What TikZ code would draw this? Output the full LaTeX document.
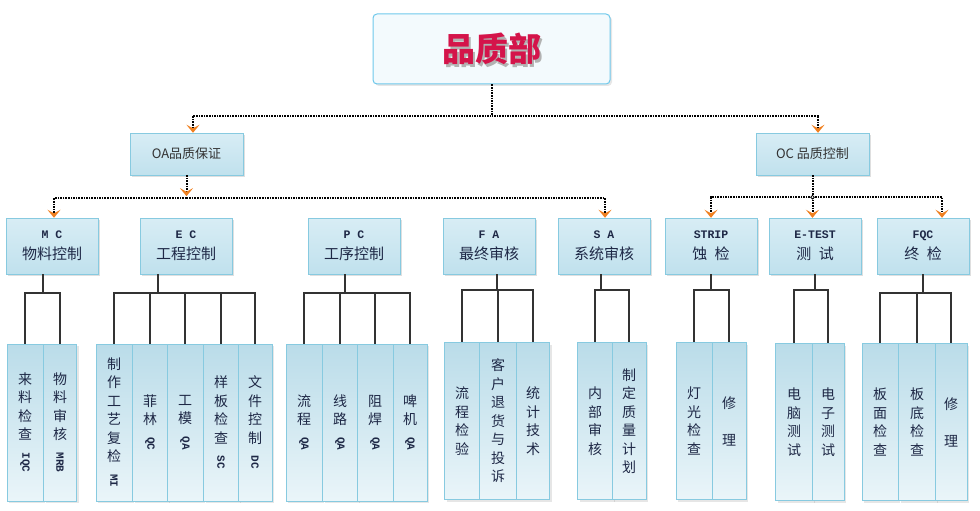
\documentclass[tikz,border=0pt]{standalone}
\usepackage{fontspec}
\newfontfamily\cjk{Noto Sans CJK SC}
\newfontfamily\latmono{Liberation Mono}
\usetikzlibrary{arrows.meta, positioning, shadows}

\definecolor{titlered}{RGB}{212,20,74}
\definecolor{titleline}{RGB}{110,200,235}
\definecolor{titlefill}{RGB}{243,250,253}
\definecolor{boxline}{RGB}{135,202,224}
\definecolor{grptop}{RGB}{216,237,245}
\definecolor{grpbot}{RGB}{192,225,237}
\definecolor{leaftop}{RGB}{186,220,233}
\definecolor{leafbot}{RGB}{234,245,249}
\definecolor{arrowor}{RGB}{240,128,32}
\definecolor{textnavy}{RGB}{30,40,70}

\newcommand{\sidew}[1]{\raisebox{6pt}{\rotatebox{-90}{\latmono\bfseries\fontsize{11}{11}\selectfont #1}}}
\newcommand{\grptag}[1]{{\latmono\bfseries\fontsize{11.5}{11.5}\selectfont #1}}

\begin{document}
\begin{tikzpicture}[x=1pt, y=-1pt,
      topbox/.style={draw=titleline, line width=1pt, rounded corners=4pt, fill=titlefill,
                     minimum width=237pt, minimum height=70pt,
                     drop shadow={opacity=.2, shadow xshift=2pt, shadow yshift=-2pt}},
      titletext/.style={font=\cjk\bfseries\fontsize{33}{33}\selectfont, text=titlered},
      titleshade/.style={font=\cjk\bfseries\fontsize{33}{33}\selectfont, text=black!30},
      qbox/.style={draw=boxline, top color=grptop, bottom color=grpbot, text=black!80,
                   minimum width=113pt, minimum height=42pt, font=\cjk\fontsize{13}{13}\selectfont,
                   drop shadow={opacity=.25, shadow xshift=2pt, shadow yshift=-2pt}},
      grp/.style={draw=boxline, top color=grptop, bottom color=grpbot, text=textnavy,
                  minimum width=92pt, minimum height=56pt, align=center, inner sep=0pt,
                  font=\cjk\fontsize{15}{21}\selectfont,
                  drop shadow={opacity=.25, shadow xshift=2pt, shadow yshift=-2pt}},
      leaf/.style={draw=boxline, top color=leaftop, bottom color=leafbot, text=textnavy,
                   minimum height=157pt, inner sep=0pt, align=center,
                   font=\cjk\fontsize{14}{18.5}\selectfont,
                   drop shadow={opacity=.2, shadow xshift=2pt, shadow yshift=-2pt}},
      dotline/.style={line width=2pt, dash pattern=on 1.6pt off 1pt},
      dotarrow/.style={dotline, -{Stealth[length=8pt, width=13pt, inset=3.5pt, color=arrowor]}},
      tree/.style={line width=1.9pt, black!80},
      jdot/.style={circle, draw, fill=white, line width=0.8pt, inner sep=1.3pt}
    ]
    \useasboundingbox (0,0) rectangle (980,511);

    % top
    \node[topbox] (qd) at (491.5,49) {};
    \node[titleshade] at ([shift={(2.5pt,-2.5pt)}]qd.center) {品质部};
    \node[titletext] (qdt) at (qd.center) {品质部};

    \node[qbox] (qa) at (186.5,154) {OA品质保证};
    \node[qbox] (qc) at (812.5,154) {OC 品质控制};

    % groups
    \node[grp] (mc) at (52,246) {\grptag{M C}\\物料控制};
    \node[grp] (ec) at (186,246) {\grptag{E C}\\工程控制};
    \node[grp] (pc) at (354,246) {\grptag{P C}\\工序控制};
    \node[grp] (fa) at (489,246) {\grptag{F A}\\最终审核};
    \node[grp] (sa) at (604,246) {\grptag{S A}\\系统审核};
    \node[grp] (strip) at (711,246) {\grptag{STRIP}\\蚀\enspace 检};
    \node[grp] (etest) at (815,246) {\grptag{E-TEST}\\测\enspace 试};
    \node[grp] (fqc) at (923,246) {\grptag{FQC}\\终\enspace 检};

    % leaves
    \node[leaf, minimum width=36pt] (m1) at (25,422.5) {来\\料\\检\\查\\\sidew{IQC}};
    \node[leaf, minimum width=33pt] (m2) at (60,422.5) {物\\料\\审\\核\\\sidew{MRB}};

    \node[leaf, minimum width=36pt] (e1) at (114,422.5) {制\\作\\工\\艺\\复\\检\\\sidew{MI}};
    \node[leaf, minimum width=35pt] (e2) at (150,422.5) {菲\\林\\\sidew{QC}};
    \node[leaf, minimum width=36pt] (e3) at (185,422.5) {工\\模\\\sidew{QA}};
    \node[leaf, minimum width=35pt] (e4) at (221,422.5) {样\\板\\检\\查\\\sidew{SC}};
    \node[leaf, minimum width=34pt] (e5) at (255,422.5) {文\\件\\控\\制\\\sidew{DC}};

    \node[leaf, minimum width=36pt] (p1) at (304,422.5) {流\\程\\\sidew{QA}};
    \node[leaf, minimum width=35pt] (p2) at (340,422.5) {线\\路\\\sidew{QA}};
    \node[leaf, minimum width=36pt] (p3) at (375,422.5) {阻\\焊\\\sidew{QA}};
    \node[leaf, minimum width=34pt] (p4) at (410,422.5) {啤\\机\\\sidew{QA}};

    \node[leaf, minimum width=35pt] (f1) at (462,421) {流\\程\\检\\验};
    \node[leaf, minimum width=37pt] (f2) at (498,421) {客\\户\\退\\货\\与\\投\\诉};
    \node[leaf, minimum width=33pt] (f3) at (533,421) {统\\计\\技\\术};

    \node[leaf, minimum width=35pt] (s1) at (595,421) {内\\部\\审\\核};
    \node[leaf, minimum width=34pt] (s2) at (629,421) {制\\定\\质\\量\\计\\划};

    \node[leaf, minimum width=36pt] (t1) at (694,421) {灯\\光\\检\\查};
    \node[leaf, minimum width=34pt] (t2) at (729,421) {修\\~\\理};

    \node[leaf, minimum width=37pt] (x1) at (794,422) {电\\脑\\测\\试};
    \node[leaf, minimum width=32pt] (x2) at (828,422) {电\\子\\测\\试};

    \node[leaf, minimum width=36pt] (q1) at (880,422) {板\\面\\检\\查};
    \node[leaf, minimum width=37pt] (q2) at (917,422) {板\\底\\检\\查};
    \node[leaf, minimum width=32pt] (q3) at (951,422) {修\\~\\理};

    % dotted links
    \draw[dotarrow] (qd.south) -- ++(0,31) -| ([xshift=6.5pt]qa.north);
    \draw[dotarrow] (qd.south) ++(0,31) -| ([xshift=5.5pt]qc.north);

    \draw[dotarrow] (qa.south) -- ++(0,21);
    \draw[dotarrow] (qa.south) ++(0,23) -| ([xshift=2pt]mc.north);
    \draw[dotarrow] (qa.south) ++(0,23) -| ([xshift=1pt]sa.north);

    \draw[dotline] (qc.south) -- ++(0,22) coordinate (qcb);
    \draw[dotarrow] (qcb) -| (strip.north);
    \draw[dotarrow] (qcb) -- (qcb |- etest.north);
    \draw[dotarrow] (qcb) -| ([xshift=19pt]fqc.north);
    \node[jdot] (qcj) at (qcb) {};

    % tree lines
    \draw[tree] ([xshift=-9pt]mc.south) -- ++(0,19) -| (m1.north);
    \draw[tree] ([xshift=-9pt]mc.south) ++(0,19) -| (m2.north);

    \draw[tree] ([xshift=-28pt]ec.south) -- ++(0,19) -| (e1.north);
    \draw[tree] ([xshift=-28pt]ec.south) ++(0,19) -| (e2.north);
    \draw[tree] ([xshift=-28pt]ec.south) ++(0,19) -| (e3.north);
    \draw[tree] ([xshift=-28pt]ec.south) ++(0,19) -| (e4.north);
    \draw[tree] ([xshift=-28pt]ec.south) ++(0,19) -| (e5.north);

    \draw[tree] ([xshift=-9pt]pc.south) -- ++(0,19) -| (p1.north);
    \draw[tree] ([xshift=-9pt]pc.south) ++(0,19) -| (p2.north);
    \draw[tree] ([xshift=-9pt]pc.south) ++(0,19) -| (p3.north);
    \draw[tree] ([xshift=-9pt]pc.south) ++(0,19) -| (p4.north);

    \draw[tree] ([xshift=8pt]fa.south) -- ++(0,16) -| (f1.north);
    \draw[tree] ([xshift=8pt]fa.south) ++(0,16) -| (f2.north);
    \draw[tree] ([xshift=8pt]fa.south) ++(0,16) -| (f3.north);

    \draw[tree] ([xshift=-3pt]sa.south) -- ++(0,16) -| (s1.north);
    \draw[tree] ([xshift=-3pt]sa.south) ++(0,16) -| (s2.north);

    \draw[tree] (strip.south) -- ++(0,16) -| (t1.north);
    \draw[tree] (strip.south) ++(0,16) -| (t2.north);

    \draw[tree] (etest.south) -- ++(0,16) -| (x1.north);
    \draw[tree] (etest.south) ++(0,16) -| (x2.north);

    \draw[tree] (fqc.south) -- ++(0,19) -| (q1.north);
    \draw[tree] (fqc.south) ++(0,19) -| (q2.north);
    \draw[tree] (fqc.south) ++(0,19) -| (q3.north);
  \end{tikzpicture}
\end{document}
